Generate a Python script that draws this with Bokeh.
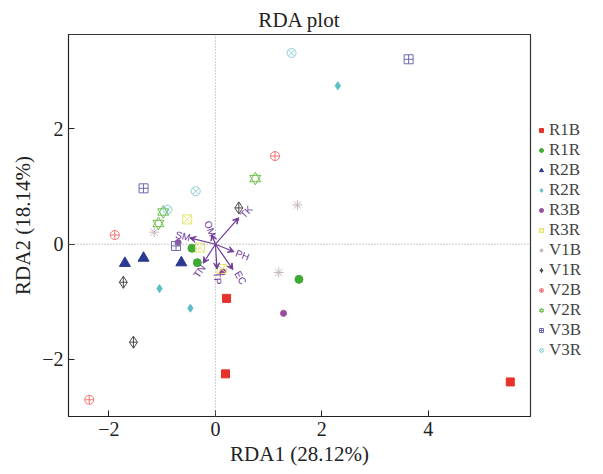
from bokeh.plotting import figure
from bokeh.models import (ColumnDataSource, Arrow, VeeHead, Span, Legend, LegendItem,
                          FixedTicker, Range1d)
from bokeh.core.properties import value
from bokeh.embed import file_html
from bokeh.resources import INLINE

# ---- sample scores (RDA1, RDA2) ----
r1b_x = [0.21, 0.19, 5.54]; r1b_y = [-0.94, -2.25, -2.39]
r1r_x = [-0.44, -0.34, 1.57]; r1r_y = [-0.07, -0.32, -0.61]
r2b_x = [-1.70, -1.35, -0.64]; r2b_y = [-0.33, -0.24, -0.32]
r2r_x = [-1.05, -0.47, 2.30]; r2r_y = [-0.77, -1.11, 2.75]
r3b_x = [1.28, 0.14, -0.70]; r3b_y = [-1.20, -0.48, 0.03]
r3r_x = [-0.29, 0.12, -0.53]; r3r_y = [-0.06, -0.43, 0.43]
v1b_x = [1.19, 1.54, -1.15]; v1b_y = [-0.49, 0.68, 0.21]
v1r_x = [-1.73, -1.54, 0.44]; v1r_y = [-0.66, -1.70, 0.63]
v2b_x = [-2.37, -1.89, 1.12]; v2b_y = [-2.70, 0.16, 1.53]
v2r_x = [0.75, -0.98, -1.07]; v2r_y = [1.14, 0.56, 0.36]
v3b_x = [-1.35, 3.63, -0.74]; v3b_y = [0.97, 3.21, -0.03]
v3r_x = [1.43, -0.37, -0.90]; v3r_y = [3.32, 0.92, 0.60]

# ---- environmental vectors ----
env_names = ["TK", "OM", "SM", "PH", "EC", "TP", "TN"]
env_x = [0.44, -0.07, -0.48, 0.35, 0.33, 0.03, -0.23]
env_y = [0.46, 0.17, 0.11, -0.13, -0.44, -0.43, -0.33]
env_label_x = [0.58, -0.10, -0.61, 0.51, 0.47, 0.04, -0.30]
env_label_y = [0.56, 0.27, 0.14, -0.19, -0.58, -0.59, -0.47]
env_label_angle = [47, -70, -14, -20, -60, -85, 55]  # degrees

x_ticks = [-2, 0, 2, 4]
y_ticks = [-2, 0, 2]

SERIF = "Liberation Serif"
ENV_COL = "#6E3A9A"

p = figure(frame_width=462, frame_height=382, output_backend="svg", toolbar_location=None,
           x_range=Range1d(-2.76, 5.92), y_range=Range1d(-2.99, 3.64),
           title="RDA plot", min_border_left=68, min_border_right=55,
           min_border_top=34, min_border_bottom=46)
p.background_fill_color = "white"
p.border_fill_color = "white"
p.grid.visible = False
p.outline_line_color = "#333333"
p.outline_line_width = 1.2

p.title.align = "center"
p.title.text_font = SERIF
p.title.text_font_size = "21px"
p.title.text_font_style = "normal"
p.title.text_color = "#222222"
p.title.standoff = 6
p.title.offset = 0

for ax in (p.xaxis[0], p.yaxis[0]):
    ax.major_tick_in = 6
    ax.major_tick_out = 0
    ax.minor_tick_line_color = None
    ax.axis_line_color = "#222222"
    ax.major_tick_line_color = "#222222"
    ax.major_label_text_font = SERIF
    ax.major_label_text_font_size = "20px"
    ax.major_label_text_color = "#222222"
    ax.axis_label_text_font = SERIF
    ax.axis_label_text_font_size = "21px"
    ax.axis_label_text_font_style = "normal"
    ax.axis_label_text_color = "#222222"

p.xaxis.ticker = FixedTicker(ticks=x_ticks)
p.yaxis.ticker = FixedTicker(ticks=y_ticks)
p.xaxis.major_label_overrides = {t: (str(t) if t >= 0 else "\u2212" + str(-t)) for t in x_ticks}
p.yaxis.major_label_overrides = {t: (str(t) if t >= 0 else "\u2212" + str(-t)) for t in y_ticks}
p.xaxis.axis_label = "RDA1 (28.12%)"
p.yaxis.axis_label = "RDA2 (18.14%)"
p.xaxis.major_label_standoff = 5
p.yaxis.major_label_standoff = 5
p.xaxis.axis_label_standoff = 3
p.yaxis.axis_label_standoff = 4

# zero reference lines
p.add_layout(Span(location=0, dimension="width", line_color="#9a9a9a",
                  line_dash="1 2", line_width=1))
p.add_layout(Span(location=0, dimension="height", line_color="#9a9a9a",
                  line_dash="1 2", line_width=1))

items = []
def add(name, xs, ys, marker, color, size, fill=True, lw=1.0):
    r = p.scatter(xs, ys, marker=marker, size=size, line_color=color,
                  fill_color=color if fill else None, line_width=lw)
    items.append(LegendItem(label=name, renderers=[r]))
    return r

add("R1B", r1b_x, r1b_y, "square", "#E5322B", 8)
add("R1R", r1r_x, r1r_y, "circle", "#3FA935", 8)
add("R2B", r2b_x, r2b_y, "triangle", "#2B3990", 11)
add("R2R", r2r_x, r2r_y, "diamond", "#5CC0C6", 8)
add("R3B", r3b_x, r3b_y, "circle", "#9A4B9E", 6)
add("R3R", r3r_x, r3r_y, "square_x", "#E6E66E", 9, fill=False)
add("V1B", v1b_x, v1b_y, "asterisk", "#C6B6BE", 10)
add("V1R", v1r_x, v1r_y, "diamond_cross", "#4A4A4A", 12, fill=False)
add("V2B", v2b_x, v2b_y, "circle_cross", "#F07575", 9, fill=False)
ra = p.scatter(v2r_x, v2r_y, marker="triangle", size=11, line_color="#6CBF4A", fill_color=None)
rb = p.scatter(v2r_x, v2r_y, marker="inverted_triangle", size=11, line_color="#6CBF4A", fill_color=None)
items.append(LegendItem(label="V2R", renderers=[ra, rb]))
add("V3B", v3b_x, v3b_y, "square_cross", "#6A6AB2", 9, fill=False)
add("V3R", v3r_x, v3r_y, "circle_x", "#8ED0D8", 9, fill=False)

# environmental arrows
env_src = ColumnDataSource(dict(x0=[0.0] * len(env_x), y0=[0.0] * len(env_y),
                                x=env_x, y=env_y, lx=env_label_x, ly=env_label_y,
                                name=env_names,
                                ang=[a * 3.14159265 / 180 for a in env_label_angle]))
p.add_layout(Arrow(x_start="x0", y_start="y0", x_end="x", y_end="y", source=env_src,
                   line_color=ENV_COL, line_width=1.2,
                   end=VeeHead(size=6, fill_color=ENV_COL, line_color=ENV_COL)))
p.text(x="lx", y="ly", text="name", angle="ang", source=env_src,
       text_color=ENV_COL, text_font=value("Liberation Sans"), text_font_size="10px",
       text_align="center", text_baseline="middle")

legend = Legend(items=items, location=(6, 56), border_line_color=None,
                background_fill_alpha=0, padding=0, margin=0, spacing=0,
                label_text_font=SERIF, label_text_font_size="17px",
                label_height=17, glyph_height=12, glyph_width=10,
                label_standoff=3, label_text_line_height=1.0)
p.add_layout(legend, "right")

open("out.html", "w").write(file_html(p, INLINE))
